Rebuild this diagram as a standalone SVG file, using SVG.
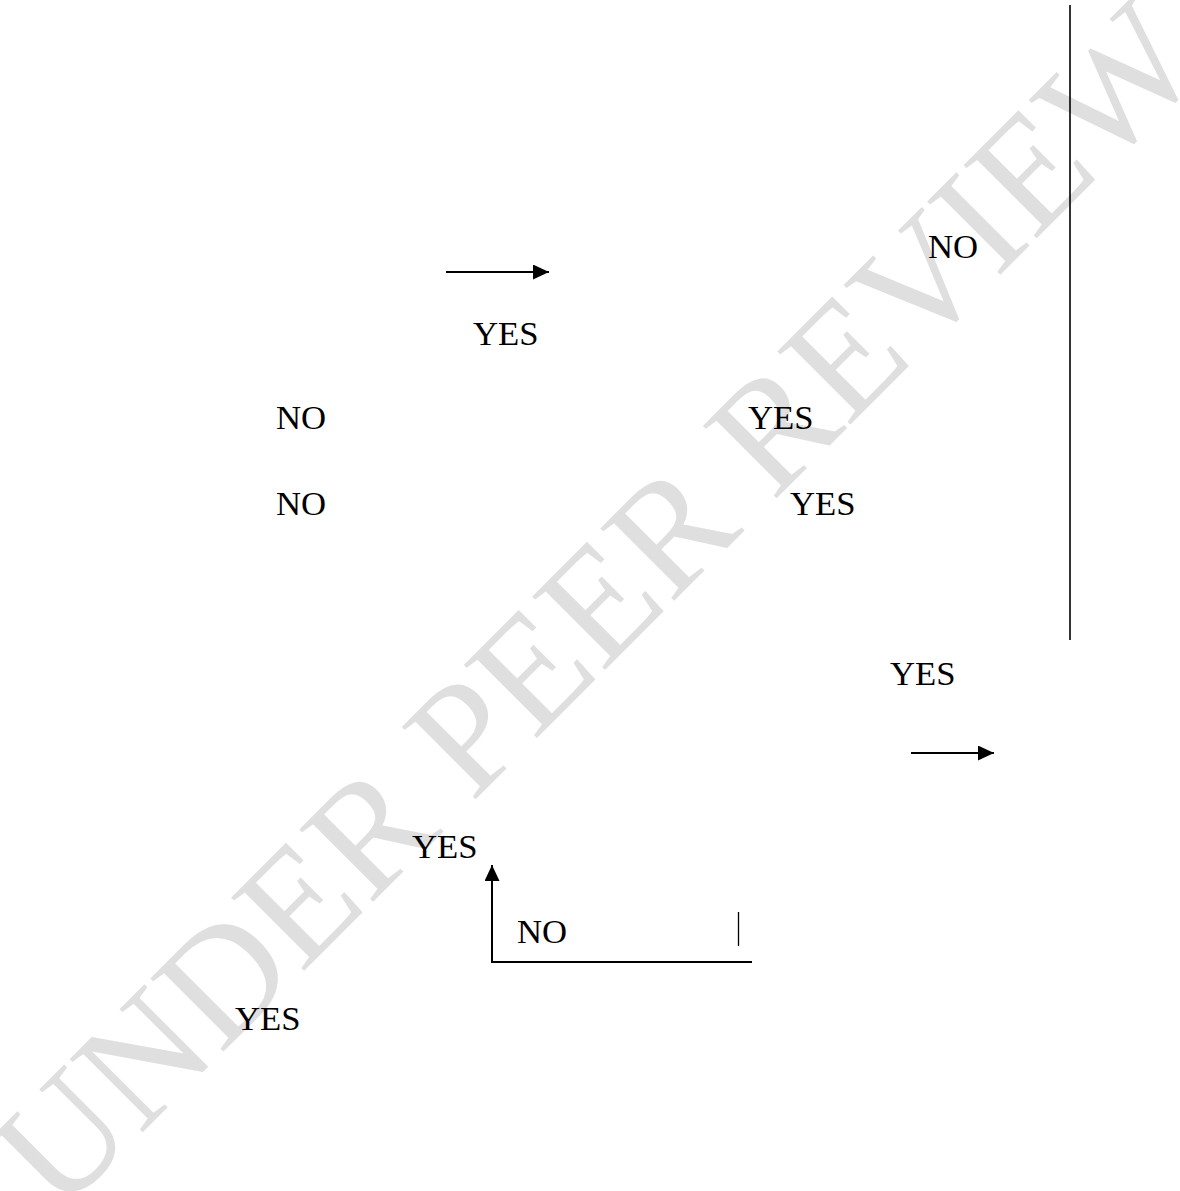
<svg xmlns="http://www.w3.org/2000/svg" width="1180" height="1191" viewBox="0 0 1180 1191">
<style>
.wm{font-family:"Liberation Serif","Times New Roman",serif;font-size:158px;fill:#dfdfdf}
.lbl{font-family:"Liberation Serif","Times New Roman",serif;font-size:34.7px;fill:#000}
.ln{stroke:#000;stroke-width:2;fill:none}
</style>
<defs>
<marker id="ah" markerWidth="16" markerHeight="15" refX="16" refY="7.5" orient="auto" markerUnits="userSpaceOnUse">
<path d="M0,0 L16,7.5 L0,15 Z" fill="#000"/>
</marker>
</defs>
<rect width="1180" height="1191" fill="#fff"/>
<g id="watermark">
<text class="wm" text-anchor="middle" transform="translate(633,642) rotate(-45)">UNDER PEER REVIEW</text>
</g>
<g id="connectors">
<line class="ln" x1="446" y1="272" x2="549" y2="272" marker-end="url(#ah)"/>
<line class="ln" x1="911" y1="753" x2="994" y2="753" marker-end="url(#ah)"/>
<line x1="1070" y1="5" x2="1070" y2="640" stroke="#000" stroke-width="1.6"/>
<path class="ln" d="M752,962 H492 V865" marker-end="url(#ah)"/>
<line x1="738.5" y1="912" x2="738.5" y2="946" stroke="#000" stroke-width="1.3"/>
</g>
<g id="labels">
<text class="lbl" x="928" y="258">NO</text>
<text class="lbl" x="473" y="345">YES</text>
<text class="lbl" x="276" y="429">NO</text>
<text class="lbl" x="748" y="429">YES</text>
<text class="lbl" x="276" y="515">NO</text>
<text class="lbl" x="790" y="515">YES</text>
<text class="lbl" x="890" y="685">YES</text>
<text class="lbl" x="412" y="858">YES</text>
<text class="lbl" x="517" y="943">NO</text>
<text class="lbl" x="235" y="1030">YES</text>
</g>
</svg>
